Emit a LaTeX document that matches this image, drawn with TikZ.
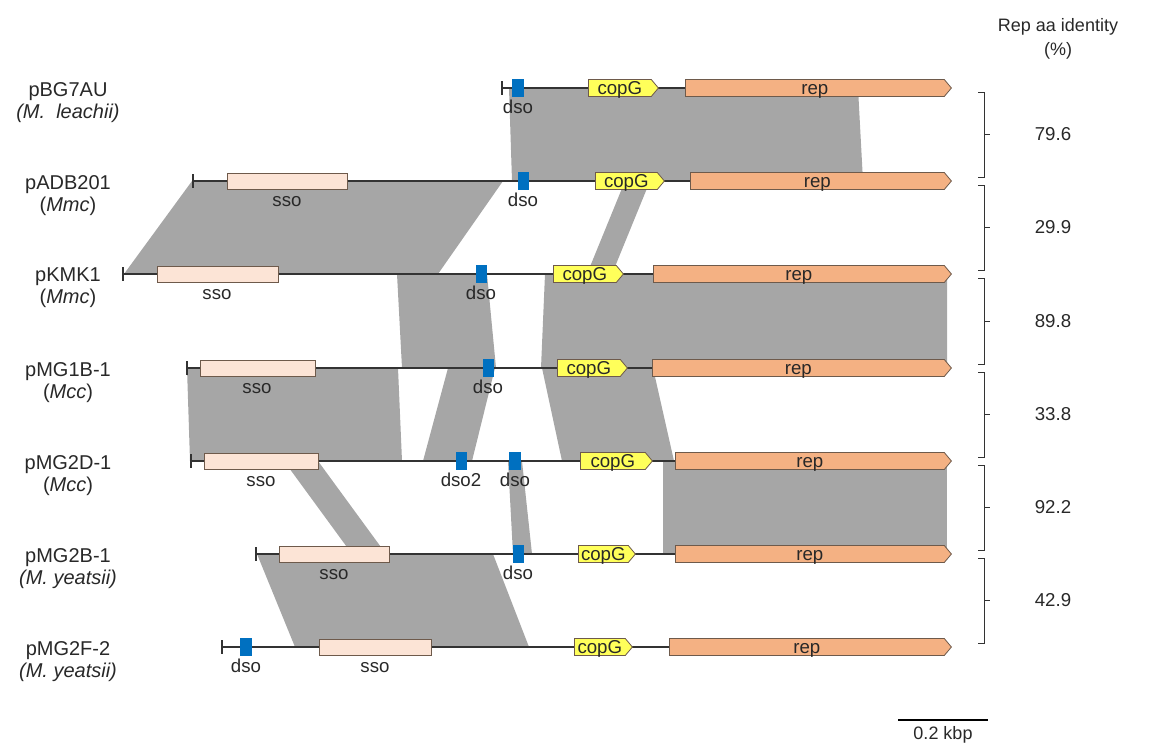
\documentclass[tikz,border=0pt]{standalone}
\usepackage{fontspec}
\setmainfont{Liberation Sans}
\usepackage{xcolor}
\usepackage{tikz}
\usetikzlibrary{shapes.symbols,backgrounds}

\definecolor{bandgray}{RGB}{166,166,166}
\definecolor{ssofill}{RGB}{252,228,214}
\definecolor{repfill}{RGB}{244,177,131}
\definecolor{copfill}{RGB}{255,255,90}
\definecolor{dsoblue}{RGB}{0,112,192}
\definecolor{boxline}{RGB}{110,90,75}
\definecolor{ink}{RGB}{40,40,40}

\begin{document}
\begin{tikzpicture}[
    x=0.75pt, y=-0.75pt,
    band/.style={fill=bandgray},
    backbone/.style={draw=black!80,line width=0.8pt},
    gbox/.style={draw=boxline,line width=0.6pt,inner sep=0pt,anchor=west,
                 text=ink,font=\fontsize{14}{14}\selectfont},
    ssobox/.style={gbox,rectangle,fill=ssofill,minimum height=12pt},
    repbox/.style={gbox,signal,signal to=east,signal pointer angle=100,
                   fill=repfill,minimum height=12.75pt,
                   text height=10pt,text depth=0pt},
    copbox/.style={repbox,fill=copfill},
    dsobox/.style={rectangle,fill=dsoblue,minimum width=8.5pt,
                   minimum height=13.5pt,inner sep=0pt},
    tag/.style={anchor=base,inner sep=0pt,text=ink,font=\fontsize{14}{14}\selectfont},
    plas/.style={align=center,text=ink,font=\fontsize{15}{16.5}\selectfont},
    pct/.style={text=ink,font=\fontsize{14}{14}\selectfont},
    brk/.style={draw=black!80,line width=0.7pt},
  ]
  \useasboundingbox (0,0) rectangle (1152,743);

  % --- plasmid names (left column) ---
  \node[plas] (n1) at (68,103) {pBG7AU\\\textit{(M.\ \ leachii)}};
  \node[plas] (n2) at (68,196) {pADB201\\(\textit{Mmc})};
  \node[plas] (n3) at (68,288) {pKMK1\\(\textit{Mmc})};
  \node[plas] (n4) at (68,383) {pMG1B-1\\(\textit{Mcc})};
  \node[plas] (n5) at (68,476) {pMG2D-1\\(\textit{Mcc})};
  \node[plas] (n6) at (68,569) {pMG2B-1\\\textit{(M. yeatsii)}};
  \node[plas] (n7) at (68,662) {pMG2F-2\\\textit{(M. yeatsii)}};

  % --- pBG7AU ---
  \coordinate (t1) at (502,88);
  \node[dsobox] (dso1) at (518,88) {};
  \node[copbox,minimum width=52.5pt] (cop1) at (588,88) {copG};
  \node[repbox,minimum width=199.5pt] (rep1) at (685,88) {rep};
  \node[tag] (dso1t) at (518,113) {dso};

  % --- pADB201 ---
  \coordinate (t2) at (193,181);
  \node[ssobox,minimum width=90pt] (sso2) at (227,181) {};
  \node[dsobox] (dso2) at (523.5,181) {};
  \node[copbox,minimum width=51.75pt] (cop2) at (595,181) {copG};
  \node[repbox,minimum width=195.75pt] (rep2) at (690,181) {rep};
  \node[tag] (sso2t) at (287,206) {sso};
  \node[tag] (dso2t) at (523,206) {dso};

  % --- pKMK1 ---
  \coordinate (t3) at (123,274);
  \node[ssobox,minimum width=90.75pt] (sso3) at (157,274) {};
  \node[dsobox] (dso3) at (481.5,274) {};
  \node[copbox,minimum width=52.5pt] (cop3) at (553,274) {copG};
  \node[repbox,minimum width=223.5pt] (rep3) at (653,274) {rep};
  \node[tag] (sso3t) at (217,299) {sso};
  \node[tag] (dso3t) at (481,299) {dso};

  % --- pMG1B-1 ---
  \coordinate (t4) at (187,368);
  \node[ssobox,minimum width=86.25pt] (sso4) at (200,368) {};
  \node[dsobox] (dso4) at (488.5,368) {};
  \node[copbox,minimum width=52.5pt] (cop4) at (557,368) {copG};
  \node[repbox,minimum width=224.25pt] (rep4) at (652,368) {rep};
  \node[tag] (sso4t) at (257,393) {sso};
  \node[tag] (dso4t) at (488,393) {dso};

  % --- pMG2D-1 (two dso copies) ---
  \coordinate (t5) at (191,461);
  \node[ssobox,minimum width=85.5pt] (sso5) at (204,461) {};
  \node[dsobox] (dsob5) at (461.5,461) {};
  \node[dsobox] (dso5) at (515,461) {};
  \node[copbox,minimum width=54pt] (cop5) at (580,461) {copG};
  \node[repbox,minimum width=207pt] (rep5) at (675,461) {rep};
  \node[tag] (sso5t) at (261,486) {sso};
  \node[tag] (dsob5t) at (461,486) {dso2};
  \node[tag] (dso5t) at (515,486) {dso};

  % --- pMG2B-1 ---
  \coordinate (t6) at (256,554);
  \node[ssobox,minimum width=82.5pt] (sso6) at (279,554) {};
  \node[dsobox] (dso6) at (518.5,554) {};
  \node[copbox,minimum width=42.75pt] (cop6) at (578,554) {copG};
  \node[repbox,minimum width=207pt] (rep6) at (675,554) {rep};
  \node[tag] (sso6t) at (334,579) {sso};
  \node[tag] (dso6t) at (518,579) {dso};

  % --- pMG2F-2 (dso upstream of sso) ---
  \coordinate (t7) at (222,647);
  \node[dsobox] (dso7) at (246,647) {};
  \node[ssobox,minimum width=84pt] (sso7) at (319,647) {};
  \node[copbox,minimum width=43.5pt] (cop7) at (574,647) {copG};
  \node[repbox,minimum width=211.5pt] (rep7) at (669,647) {rep};
  \node[tag] (dso7t) at (246,672) {dso};
  \node[tag] (sso7t) at (375,672) {sso};

  % --- homology bands and backbones, behind the genes ---
  \begin{scope}[on background layer]
    \foreach \ya/\yb/\a/\b/\c/\d in {
        88/181/509/858/512/863,
        181/274/192/503/124/438, 181/274/625/650/587/612,
        274/368/397/487/402/496, 274/368/545/947/541/947,
        368/461/187/398/190/402, 368/461/448/495/423/472,
        368/461/542/653/562/674,
        461/554/284/318/352/386, 461/554/508/522/513/532,
        461/554/663/947/663/947,
        554/647/257/493/295/529}
      \fill[band] (\a,\ya) -- (\b,\ya) -- (\d,\yb) -- (\c,\yb) -- cycle;

    \foreach \i in {1,...,7} {
      \draw[backbone] (t\i) -- (rep\i.west);
      \draw[backbone] ([yshift=5.25pt]t\i) -- ([yshift=-5.25pt]t\i);
    }
  \end{scope}

  % --- Rep identity brackets ---
  \node[align=center,text=ink,font=\fontsize{13.5}{18}\selectfont] (head)
    at (1058,39) {Rep aa identity\\(\%)};
  \foreach \ya/\yb/\v [count=\i] in {88/181/79.6, 181/274/29.9, 274/368/89.8,
                                     368/461/33.8, 461/554/92.2, 554/647/42.9} {
    \draw[brk] (978,\ya+4) -- (984,\ya+4) -- (984,\yb-4) -- (978,\yb-4);
    \draw[brk] (984,{(\ya+\yb)/2}) -- (990,{(\ya+\yb)/2});
    \node[pct] (id\i) at (1053,{(\ya+\yb)/2}) {\v};
  }

  % --- scale bar ---
  \coordinate (sb1) at (898,720);
  \coordinate (sb2) at (988,720);
  \draw[black,line width=1.1pt] (sb1) -- (sb2);
  \node[text=ink,font=\fontsize{13.5}{13.5}\selectfont] (sbl) at (943,735) {0.2 kbp};
\end{tikzpicture}
\end{document}
